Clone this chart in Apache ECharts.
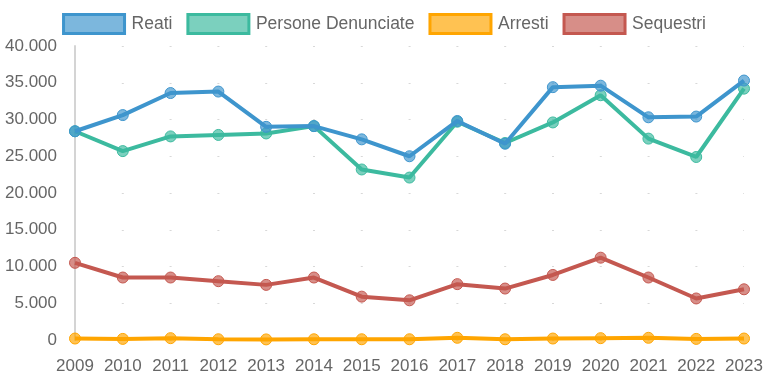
<!DOCTYPE html>
<html>
<head>
<meta charset="utf-8">
<script src="https://cdn.jsdelivr.net/npm/echarts@6/dist/echarts.min.js"></script>
<style>html,body{margin:0;padding:0;background:#fff}#c{width:768px;height:384px}</style>
</head>
<body>
<div id="c"></div>
<script>
const years = ['2009','2010','2011','2012','2013','2014','2015','2016','2017','2018','2019','2020','2021','2022','2023'];
const reati = [28400,30600,33600,33800,29000,29100,27300,25000,29800,26700,34400,34600,30300,30400,35300];
const personeDenunciate = [28400,25700,27700,27900,28100,29100,23200,22100,29700,26800,29600,33300,27400,24900,34200];
const arresti = [200,150,250,100,80,100,100,100,300,100,200,250,300,150,200];
const sequestri = [10500,8500,8500,8000,7500,8500,5900,5400,7600,7000,8850,11200,8500,5650,6900];
const seriesNames = ['Reati','Persone Denunciate','Arresti','Sequestri'];
const colors = ['#3e95cd','#3cba9f','#ffa500','#c45850'];
const fills = ['rgba(62,149,205,0.68)','rgba(60,186,159,0.68)','rgba(255,165,0,0.68)','rgba(196,88,80,0.68)'];
const datasets = [reati, personeDenunciate, arresti, sequestri];

function fmt(v){ return String(v).replace(/\B(?=(\d{3})+(?!\d))/g, '.'); }

const chart = echarts.init(document.getElementById('c'), null, {renderer:'canvas'});
chart.setOption({
  animation:false,
  textStyle:{fontFamily:'Liberation Sans, Arial, sans-serif'},
  legend:{
    top:8, left:'center', icon:'rect', itemWidth:61, itemHeight:19, itemGap:14,
    textStyle:{fontSize:17.5, color:'#666', padding:[0,0,0,2]},
    data: seriesNames.map((n,i)=>({name:n, itemStyle:{color:fills[i], borderColor:colors[i], borderWidth:3}}))
  },
  grid:{left:75, right:24, top:46, bottom:44},
  xAxis:{
    type:'category', data:years, boundaryGap:false,
    axisLine:{show:false}, axisTick:{show:false},
    axisLabel:{fontSize:17, color:'#666', margin:18, interval:0, hideOverlap:false},
    splitLine:{show:false}
  },
  yAxis:{
    type:'value', min:0, max:40000, interval:5000,
    axisLine:{show:true, lineStyle:{color:'#d4d4d4', width:2}},
    axisTick:{show:false},
    axisLabel:{fontSize:17, color:'#666', margin:18, formatter:fmt},
    splitLine:{show:true, lineStyle:{color:'#d8d8d8', width:1, type:[2,45.8], dashOffset:1}}
  },
  series: datasets.map((d,i)=>({
    name:seriesNames[i], type:'line', data:d, z:10-i,
    symbol:'circle', symbolSize:11, showSymbol:true,
    lineStyle:{color:colors[i], width:4},
    itemStyle:{color:fills[i], borderColor:colors[i], borderWidth:1}
  }))
});
</script>
</body>
</html>
